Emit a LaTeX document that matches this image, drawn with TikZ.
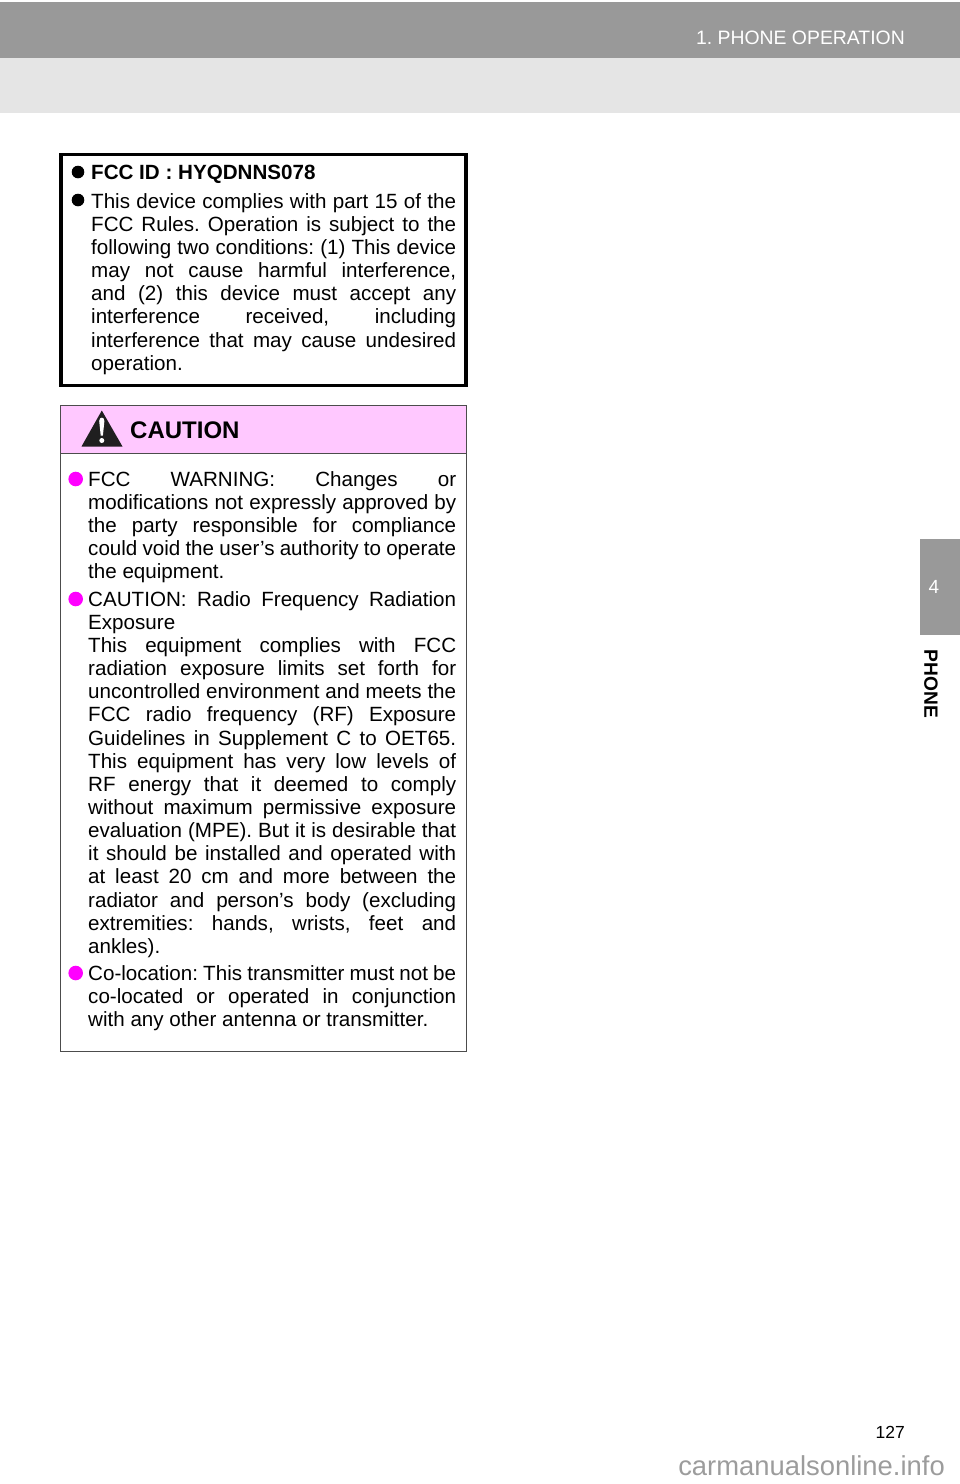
\documentclass[tikz,border=0pt]{standalone}
\usepackage{fontspec}
\setmainfont{Liberation Sans}
\frenchspacing
\definecolor{bandgray}{HTML}{999999}
\definecolor{lightband}{HTML}{E5E5E5}
\definecolor{cautionpink}{HTML}{FFC8FF}
\definecolor{bulletpink}{HTML}{FF00FF}
\definecolor{markgray}{HTML}{9C9C9C}
\newcommand{\jline}[1]{\hbox to \hsize{#1}}
\tikzset{
    bodytext/.style={anchor=north west,inner sep=0pt,align=justify,font=\fontsize{20.6}{23.15}\selectfont},
    boxtext/.style={bodytext,text width=365pt},
    cautext/.style={bodytext,text width=368pt},
    whitetext/.style={text=white,inner sep=0pt},
}
\begin{document}
\begin{tikzpicture}[x=1pt,y=-1pt]
    \useasboundingbox (0,0) rectangle (960,1484);
    % page bands
    \fill[bandgray] (0,2) rectangle (960,57.5);
    \fill[lightband] (0,57.5) rectangle (960,113);
    \node[whitetext,anchor=base east,font=\fontsize{19.4}{24}\selectfont] (title) at (905,44) {1. PHONE OPERATION};
    % side tab
    \fill[bandgray] (920,539) rectangle (960,635);
    \node[whitetext,font=\fontsize{19}{22}\selectfont] (tabnum) at (934,586.5) {4};
    \node[inner sep=0pt,rotate=-90,font=\bfseries\fontsize{19.2}{22}\selectfont] (tabname) at (931,684) {PHONE};
    % FCC box
    \draw[line width=3.5pt] (60.8,154.5) rectangle (466.2,385.5);
    \foreach \y in {172,200} {
        \fill (78,\y) circle (6.3);
    }
    \node[bodytext,font=\bfseries\fontsize{20.6}{23.15}\selectfont] (fccid) at (91,165) {FCC ID : HYQDNNS078};
    \node[boxtext] (fcctext) at (91,193) {\jline{This device complies with part 15 of the}
        \jline{FCC Rules. Operation is subject to the}
        \jline{following two conditions: (1) This device}
        \jline{may not cause harmful interference,}
        \jline{and (2) this device must accept any}
        \jline{interference received, including}
        \jline{interference that may cause undesired}
        operation.};
    % caution box
    \fill[cautionpink] (60.5,405.5) rectangle (466.5,453);
    \draw[black!70,line width=1pt] (60.5,405.5) rectangle (466.5,1051.5);
    \draw[black!70,line width=1pt] (60.5,453) -- (466.5,453);
    \fill[black!88] (101.8,410.5) -- (122.5,446.5) -- (81.5,446.5) -- cycle;
    \fill[white] (99.2,421) .. controls (99.2,416.5) and (104.4,416.5) .. (104.4,421) -- (102.9,435.5) -- (100.7,435.5) -- cycle;
    \fill[white] (101.8,440.5) circle (2.5);
    \node[bodytext,anchor=base west,font=\bfseries\fontsize{24}{28}\selectfont] (cauhead) at (130,438) {CAUTION};
    \foreach \y in {479,599,973} {
        \fill[bulletpink] (75.7,\y) circle (7.3);
    }
    \node[cautext] (cauone) at (88,471) {\jline{FCC WARNING: Changes or}
        \jline{modifications not expressly approved by}
        \jline{the party responsible for compliance}
        \jline{could void the user’s authority to operate}
        the equipment.};
    \node[cautext] (cautwo) at (88,591) {\jline{CAUTION: Radio Frequency Radiation}
        \jline{Exposure\hfil}
        \jline{This equipment complies with FCC}
        \jline{radiation exposure limits set forth for}
        \jline{uncontrolled environment and meets the}
        \jline{FCC radio frequency (RF) Exposure}
        \jline{Guidelines in Supplement C to OET65.}
        \jline{This equipment has very low levels of}
        \jline{RF energy that it deemed to comply}
        \jline{without maximum permissive exposure}
        \jline{evaluation (MPE). But it is desirable that}
        \jline{it should be installed and operated with}
        \jline{at least 20 cm and more between the}
        \jline{radiator and person’s body (excluding}
        \jline{extremities: hands, wrists, feet and}
        ankles).};
    \node[cautext] (cauthree) at (88,965) {\jline{Co-location: This transmitter must not be}
        \jline{co-located or operated in conjunction}
        with any other antenna or transmitter.};
    % page number and footer
    \node[inner sep=0pt,anchor=base east,font=\fontsize{17.5}{22}\selectfont] (pagenum) at (905,1438) {127};
    \node[inner sep=0pt,anchor=base east,text=markgray,font=\fontsize{27.4}{28}\selectfont] (footer) at (945,1475) {carmanualsonline.info};
\end{tikzpicture}
\end{document}
